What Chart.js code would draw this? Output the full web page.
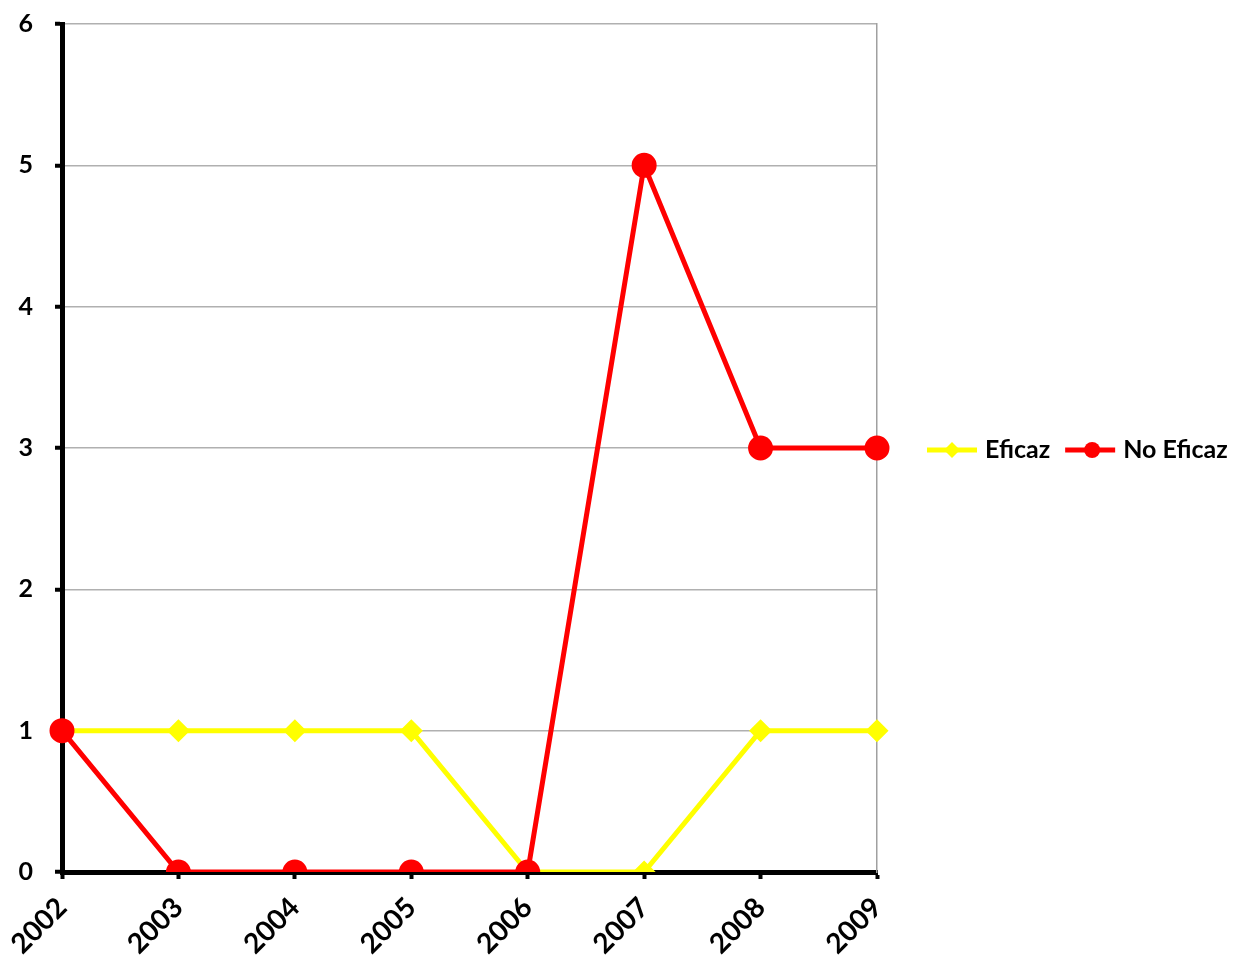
<!DOCTYPE html>
<html>
<head>
<meta charset="utf-8">
<script src="https://cdn.jsdelivr.net/npm/chart.js@4"></script>
<style>
  html, body { margin: 0; padding: 0; background: #fff; }
  #wrap { width: 1242px; height: 971px; }
</style>
</head>
<body>
<div id="wrap"><canvas id="chart"></canvas></div>
<script>
// Chart data
const years = ['2002', '2003', '2004', '2005', '2006', '2007', '2008', '2009'];
const eficaz = [1, 1, 1, 1, 0, 0, 1, 1];
const noEficaz = [1, 0, 0, 0, 0, 5, 3, 3];
const yTicks = [0, 1, 2, 3, 4, 5, 6];

const YELLOW = '#ffff00';
const RED = '#ff0000';
const FONT = 'Lato, "Open Sans", sans-serif';

// legend drawn in one row to the right of the plot, level with y = 3
const rowLegend = {
  id: 'rowLegend',
  afterDraw(chart) {
    const ctx = chart.ctx;
    const y = chart.scales.y.getPixelForValue(3) + 2;
    let x = 927;
    ctx.save();
    ctx.font = 'bold 25px ' + FONT;
    ctx.textBaseline = 'middle';
    chart.data.datasets.slice().reverse().forEach(ds => {
      ctx.strokeStyle = ds.borderColor;
      ctx.lineWidth = 5;
      ctx.beginPath();
      ctx.moveTo(x, y);
      ctx.lineTo(x + 50, y);
      ctx.stroke();
      ctx.fillStyle = ds.borderColor;
      ctx.beginPath();
      if (ds.pointStyle === 'rectRot') {
        ctx.moveTo(x + 25, y - 8); ctx.lineTo(x + 33, y);
        ctx.lineTo(x + 25, y + 8); ctx.lineTo(x + 17, y);
      } else {
        ctx.arc(x + 27, y, 8, 0, Math.PI * 2);
      }
      ctx.fill();
      ctx.fillStyle = '#000';
      ctx.fillText(ds.label, x + 58, y);
      x += 58 + ctx.measureText(ds.label).width + 15;
    });
    ctx.restore();
  }
};

new Chart(document.getElementById('chart'), {
  type: 'line',
  data: {
    labels: years,
    datasets: [
      {
        label: 'No Eficaz', data: noEficaz, order: 0,
        borderColor: RED, backgroundColor: RED, borderWidth: 5,
        pointStyle: 'circle', pointRadius: 10, pointHoverRadius: 10,
        tension: 0
      },
      {
        label: 'Eficaz', data: eficaz, order: 1,
        borderColor: YELLOW, backgroundColor: YELLOW, borderWidth: 5,
        pointStyle: 'rectRot', pointRadius: 8, pointHoverRadius: 8,
        tension: 0
      }
    ]
  },
  options: {
    responsive: true,
    maintainAspectRatio: false,
    animation: false,
    layout: { padding: { top: 24, right: 364, bottom: 0, left: 0 } },
    plugins: { legend: { display: false }, tooltip: { enabled: false } },
    scales: {
      x: {
        offset: false,
        afterFit: axis => { axis.height = 99; },
        border: { color: '#000', width: 5 },
        grid: { drawOnChartArea: false, tickLength: 7, tickColor: '#000', tickWidth: 4 },
        ticks: {
          minRotation: 45, maxRotation: 45, color: '#000', padding: 12,
          font: { family: FONT, size: 28, weight: 'bold' }
        }
      },
      y: {
        min: 0, max: 6,
        afterFit: axis => { axis.width = 62; axis.paddingTop = 0; axis.paddingBottom = 0; },
        afterBuildTicks: axis => { axis.ticks = yTicks.map(v => ({ value: v })); },
        border: { color: '#000', width: 5 },
        grid: { color: '#b0b0b0', lineWidth: 1.5, tickLength: 7, tickColor: '#000', tickWidth: 4 },
        ticks: {
          color: '#000', padding: 22,
          font: { family: FONT, size: 25, weight: 'bold' }
        }
      },
      y2: {
        position: 'right', min: 0, max: 6,
        afterFit: axis => { axis.width = 1; axis.paddingTop = 0; axis.paddingBottom = 0; },
        border: { color: '#a0a0a0', width: 1.5 },
        grid: { drawOnChartArea: false, drawTicks: false },
        ticks: { display: false }
      }
    }
  },
  plugins: [rowLegend]
});
</script>
</body>
</html>
